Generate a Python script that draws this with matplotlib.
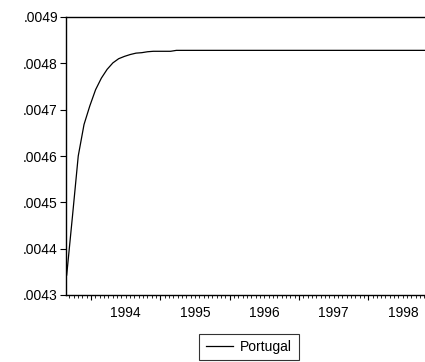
import numpy as np
import matplotlib
matplotlib.use("Agg")
import matplotlib.pyplot as plt
from matplotlib.ticker import FixedLocator, FuncFormatter

plt.rcParams['font.family'] = ['Liberation Sans', 'DejaVu Sans']

# monthly observations starting late 1993
start_year = 1993.65
portugal = [
    0.004343, 0.004470, 0.004600, 0.004668, 0.004708, 0.004743, 0.004768,
    0.004787, 0.004801, 0.004810, 0.004815, 0.004819, 0.004822, 0.004823,
    0.004825, 0.004826, 0.004826, 0.004826, 0.004826, 0.004828, 0.004828,
    0.004828, 0.004828, 0.004828, 0.004828, 0.004828, 0.004828, 0.004828,
    0.004828, 0.004828, 0.004828, 0.004828, 0.004828, 0.004828, 0.004828,
    0.004828, 0.004828, 0.004828, 0.004828, 0.004828, 0.004828, 0.004828,
    0.004828, 0.004828, 0.004828, 0.004828, 0.004828, 0.004828, 0.004828,
    0.004828, 0.004828, 0.004828, 0.004828, 0.004828, 0.004828, 0.004828,
    0.004828, 0.004828, 0.004828, 0.004828, 0.004828, 0.004828, 0.004828,
]
year_labels = [1994, 1995, 1996, 1997, 1998]
y_ticks = [0.0043, 0.0044, 0.0045, 0.0046, 0.0047, 0.0048, 0.0049]

t = start_year + np.arange(len(portugal)) / 12.0

fig = plt.figure(figsize=(4.25, 3.62), dpi=100)
ax = fig.add_axes([66 / 425, 67 / 362, 359 / 425, 278 / 362])

line, = ax.plot(t, portugal, color='black', lw=0.9, label='Portugal')

ax.set_xlim(1993.64, 1998.82)
ax.set_ylim(0.0043, 0.0049)

for s in ['left', 'bottom', 'top']:
    ax.spines[s].set_linewidth(1.0)
    ax.spines[s].set_color('black')
ax.spines['right'].set_visible(False)

# y axis
ax.yaxis.set_major_locator(FixedLocator(y_ticks))
ax.yaxis.set_major_formatter(FuncFormatter(lambda v, p: ('%.4f' % v)[1:]))
ax.tick_params(axis='y', direction='out', length=4.3, width=0.8, labelsize=10, pad=1.5)

# x axis: year boundaries major, small minor ticks, labels mid year
years = np.arange(1994, 1999)
ax.xaxis.set_major_locator(FixedLocator(years))
ax.xaxis.set_minor_locator(FixedLocator(np.arange(1993.625, 1998.9, 1 / 16.0)))
ax.xaxis.set_major_formatter(FuncFormatter(lambda v, p: ''))
ax.tick_params(axis='x', which='major', direction='out', length=3.5, width=0.8)
ax.tick_params(axis='x', which='minor', direction='out', length=2.0, width=0.6)

sec = ax.secondary_xaxis('bottom')
sec.set_xticks([y + 0.5 for y in year_labels])
sec.set_xticklabels([str(y) for y in year_labels])
sec.tick_params(length=0, labelsize=10, pad=8)
sec.spines['bottom'].set_visible(False)

leg = fig.legend(handles=[line], loc='center', bbox_to_anchor=(249 / 425, 1 - 347 / 362),
                 fontsize=10, frameon=True, fancybox=False, handlelength=2.0,
                 borderpad=0.45, handletextpad=0.5, borderaxespad=0)
leg.get_frame().set_edgecolor('black')
leg.get_frame().set_linewidth(0.8)

fig.savefig('out.png', dpi=100)
